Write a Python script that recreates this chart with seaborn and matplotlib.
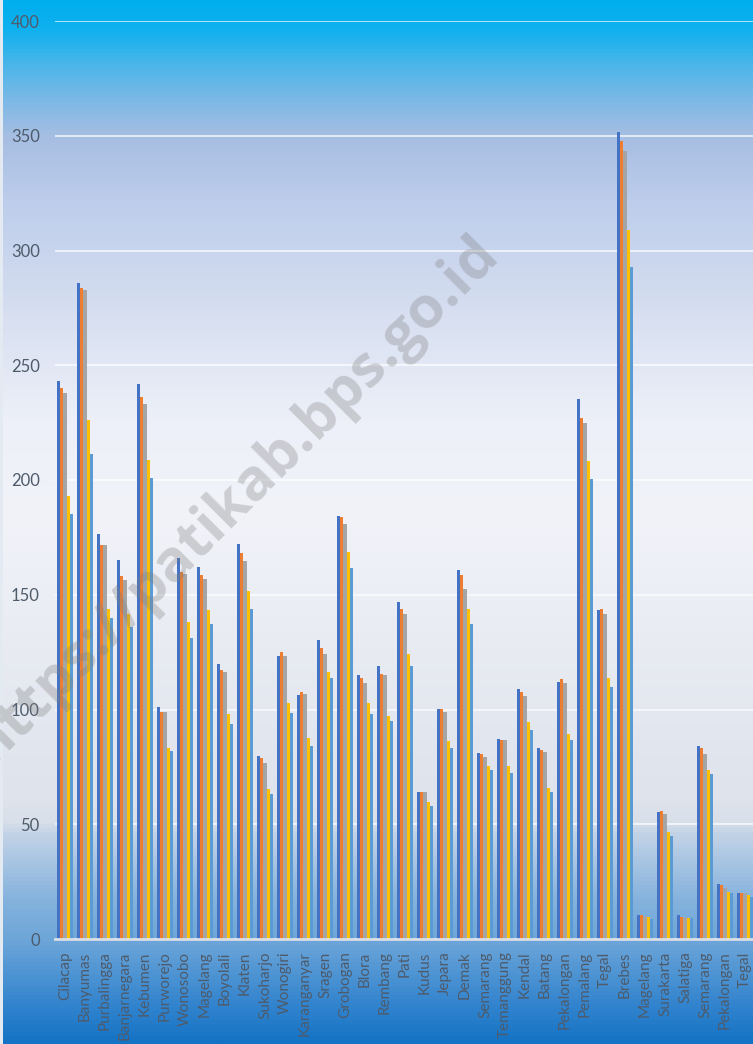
import numpy as np
import pandas as pd
import matplotlib
matplotlib.use('Agg')
import matplotlib.pyplot as plt
from matplotlib.colors import LinearSegmentedColormap
import seaborn as sns

# ---------- data ----------
wilayah = ['Cilacap', 'Banyumas', 'Purbalingga', 'Banjarnegara', 'Kebumen', 'Purworejo',
           'Wonosobo', 'Magelang', 'Boyolali', 'Klaten', 'Sukoharjo', 'Wonogiri',
           'Karanganyar', 'Sragen', 'Grobogan', 'Blora', 'Rembang', 'Pati', 'Kudus',
           'Jepara', 'Demak', 'Semarang', 'Temanggung', 'Kendal', 'Batang', 'Pekalongan',
           'Pemalang', 'Tegal', 'Brebes', 'Magelang', 'Surakarta', 'Salatiga', 'Semarang',
           'Pekalongan', 'Tegal']

seri_1 = [243.3, 285.8, 176.6, 165.3, 242.0, 101.3, 166.2, 162.3, 120.0, 172.3, 79.7, 123.4,
          106.3, 130.5, 184.5, 115.0, 119.0, 147.0, 64.1, 100.2, 160.8, 81.0, 87.1, 108.9,
          83.2, 112.0, 235.3, 143.4, 351.6, 10.5, 55.3, 10.5, 84.1, 24.0, 20.0]
seri_2 = [240.3, 283.7, 171.8, 158.3, 236.0, 99.1, 160.1, 158.8, 117.0, 168.0, 78.9, 125.1,
          107.6, 126.6, 184.0, 113.7, 115.5, 144.0, 64.1, 100.2, 158.6, 80.6, 86.7, 107.6,
          82.4, 113.3, 227.0, 143.8, 347.7, 10.5, 55.8, 9.6, 83.2, 23.5, 20.0]
seri_3 = [238.1, 282.8, 171.8, 156.6, 233.3, 98.7, 159.2, 157.0, 116.3, 164.9, 76.7, 123.4,
          106.8, 124.0, 181.0, 111.5, 115.0, 141.7, 64.1, 98.9, 152.5, 79.3, 86.7, 105.9,
          81.5, 111.6, 224.8, 141.6, 343.4, 10.0, 54.5, 9.6, 80.6, 22.2, 20.0]
seri_4 = [193.2, 226.3, 144.0, 141.7, 208.5, 83.4, 138.3, 143.5, 98.0, 151.8, 65.4, 102.9,
          87.6, 116.3, 168.8, 102.9, 97.2, 124.0, 59.7, 86.3, 143.8, 75.4, 75.4, 94.6,
          65.8, 89.3, 208.3, 113.7, 309.0, 9.6, 46.6, 9.2, 73.6, 20.5, 19.2]
seri_5 = [185.4, 211.5, 140.0, 136.0, 201.0, 82.0, 131.3, 137.4, 93.7, 144.0, 63.2, 98.5,
          84.1, 113.7, 161.8, 98.0, 95.0, 119.0, 58.0, 83.2, 137.3, 73.6, 72.3, 91.0,
          64.1, 86.7, 200.4, 109.8, 292.8, 8.7, 44.9, 9.2, 71.9, 20.0, 18.5]

nama_seri = ['Seri 1', 'Seri 2', 'Seri 3', 'Seri 4', 'Seri 5']
warna = ['#4472C4', '#ED7D31', '#A5A5A5', '#FFC000', '#5B9BD5']

rows = []
for nama, nilai in zip(nama_seri, [seri_1, seri_2, seri_3, seri_4, seri_5]):
    for i, v in enumerate(nilai):
        rows.append({'idx': i, 'seri': nama, 'nilai': v})
df = pd.DataFrame(rows)

# ---------- figure ----------
sns.set_style('white')
plt.rcParams['font.family'] = ['Lato', 'DejaVu Sans']

W, H = 753, 1044
fig = plt.figure(figsize=(W / 100, H / 100), dpi=100)

# background gradient (top to bottom)
stops = [(0, '#00AEEF'), (30, '#12B1EE'), (60, '#47B5EA'), (100, '#7EB9E6'),
         (135, '#A6BEE2'), (200, '#BDCDEB'), (300, '#D4DDF0'), (420, '#EDF0F8'),
         (520, '#F1F3F9'), (650, '#E8EBF2'), (800, '#DEE3EC'), (822, '#D9E0EA'),
         (835, '#C3D3E7'), (900, '#86B3DD'), (945, '#6AA4D8'), (1000, '#3887CF'),
         (1044, '#1473C5')]
cmap = LinearSegmentedColormap.from_list('bg', [(p / H, c) for p, c in stops])
bg = fig.add_axes([0, 0, 1, 1])
bg.imshow(np.linspace(0, 1, 512).reshape(-1, 1), aspect='auto', cmap=cmap,
          extent=[0, 1, 0, 1], origin='upper')
bg.axvspan(0, 3 / W, color='#E3EAF2', lw=0)
bg.set_axis_off()

ax = fig.add_axes([55 / W, 105 / H, 700 / W, 918 / H])
ax.set_facecolor('none')
sns.barplot(data=df, x='idx', y='nilai', hue='seri', palette=warna, width=0.8,
            saturation=1, errorbar=None, linewidth=0, edgecolor='none', ax=ax, zorder=3)

ax.set_ylim(0, 400)
ax.set_yticks(range(0, 401, 50))
ax.set_xlim(-0.5, len(wilayah) - 0.5)
ax.set_xticks(range(len(wilayah)))
ax.set_xticklabels(wilayah, rotation=90, fontsize=11, color='#4E5B6B')
ax.tick_params(axis='y', labelsize=12, labelcolor='#4E5B6B', length=0, pad=11)
ax.tick_params(axis='x', length=0, pad=9)
ax.set_xlabel('')
ax.set_ylabel('')
ax.legend_.remove()

ax.grid(axis='y', color='white', lw=1.2, alpha=0.8, zorder=0)
ax.grid(axis='x', visible=False)
for s in ['top', 'right', 'left']:
    ax.spines[s].set_visible(False)
ax.spines['bottom'].set_color('#D9DEE6')
ax.spines['bottom'].set_linewidth(2)
ax.spines['bottom'].set_zorder(4)

# watermark (runs off the left edge, as in the source image)
fig.text(235 / W, 1 - 500 / H, 'https://patikab.bps.go.id', rotation=45,
         ha='center', va='center', fontsize=42, fontweight='bold',
         family=['Open Sans', 'DejaVu Sans'],
         color='#7F7F7F', alpha=0.32, zorder=10)

fig.savefig('out.png', dpi=100)
